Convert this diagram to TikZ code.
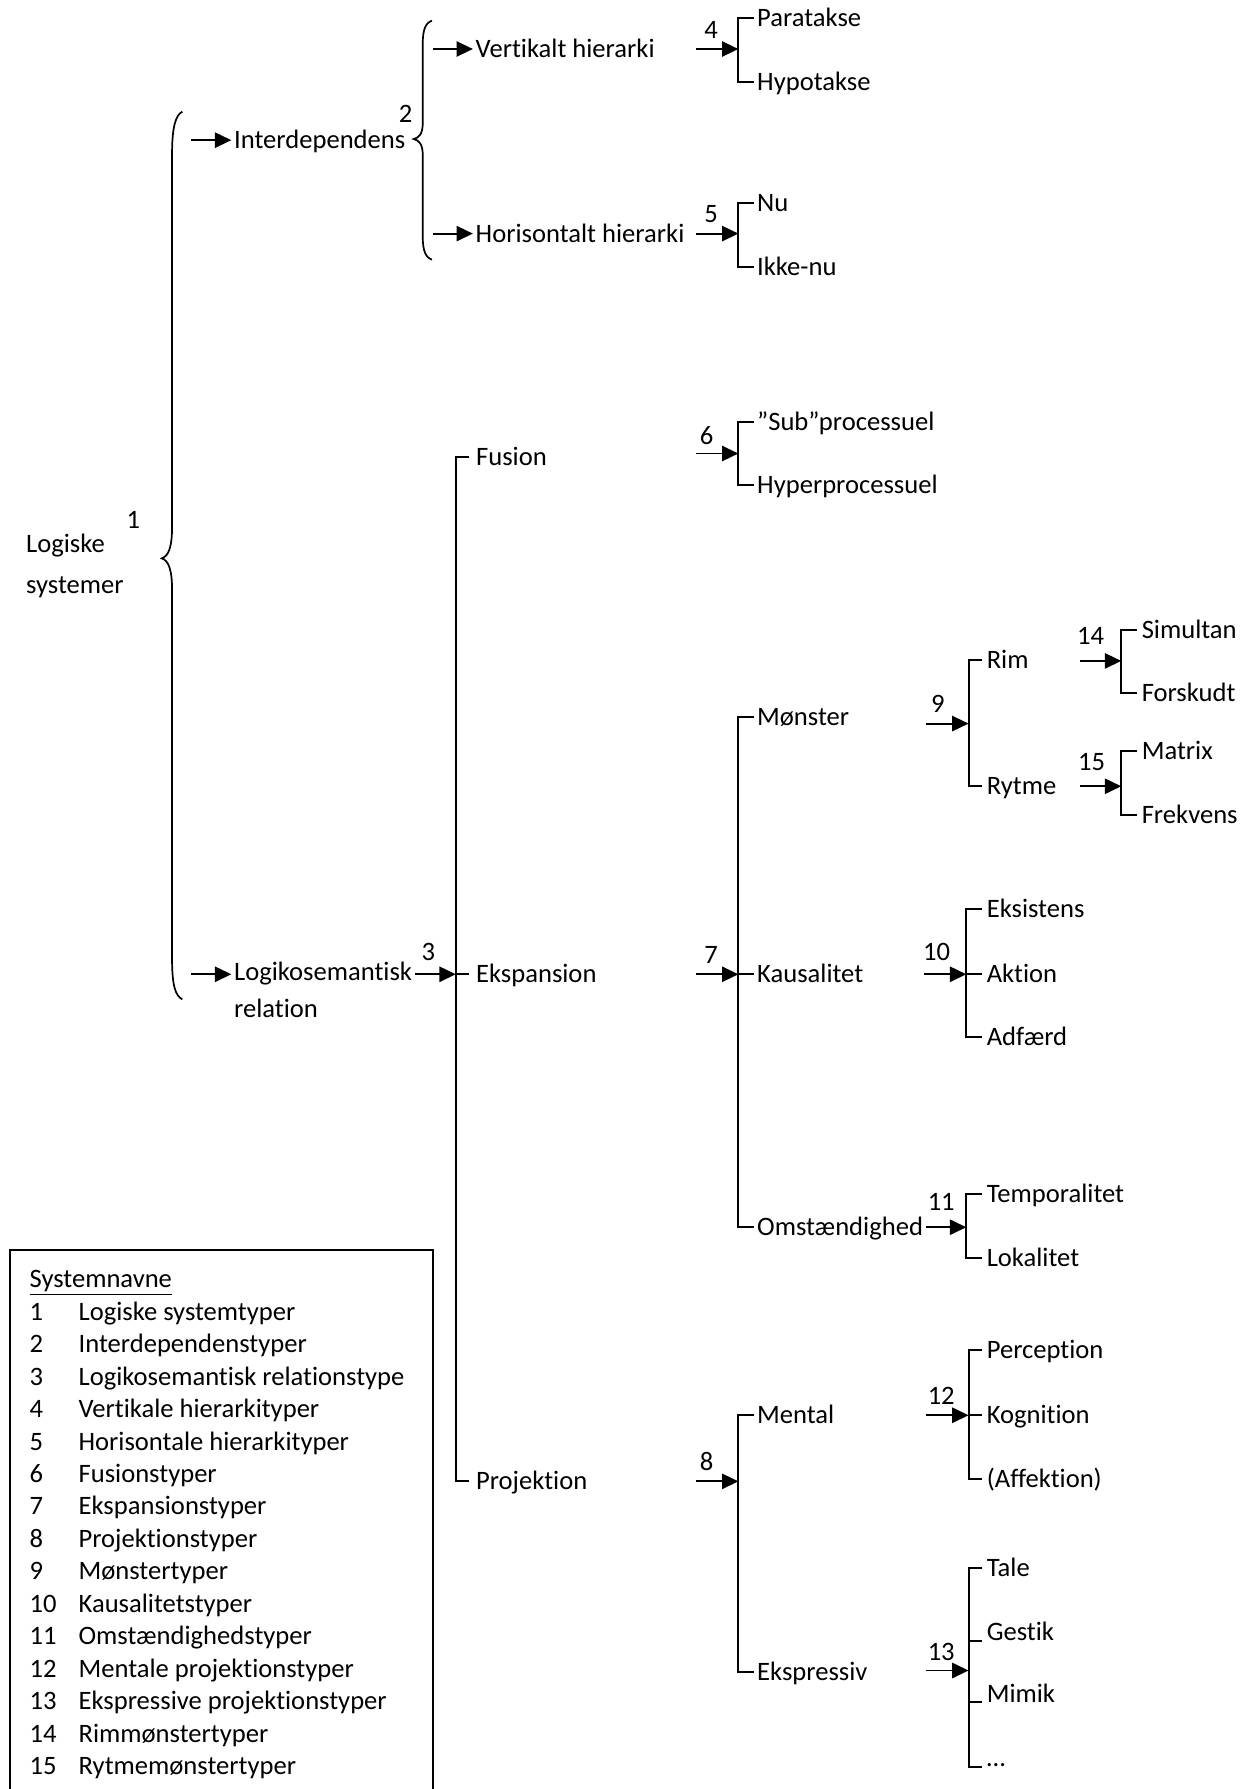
\documentclass[tikz,border=0pt]{standalone}
\usepackage{fontspec}
\setmainfont{Carlito}[Ligatures={NoCommon,NoContextual}]
\usetikzlibrary{arrows.meta}
\begin{document}
\begin{tikzpicture}[x=0.6pt,y=-0.6pt,
  every node/.style={font=\fontsize{14pt}{17pt}\selectfont, inner sep=0pt},
  lbl/.style={anchor=west, outer xsep=1.5pt, text height=9pt, text depth=0pt},
  blbl/.style={anchor=south west, outer xsep=1.5pt, text height=9pt, text depth=0pt},
  num/.style={anchor=center},
  ln/.style={line width=1pt},
  arr/.style={line width=1pt, -{Triangle[length=8.6pt,width=8pt]}},
  brace/.style={line width=0.9pt},
  legbox/.style={line width=0.8pt}]
\useasboundingbox (0,0) rectangle (1095,1570);

% ---------- root ----------
\node[lbl, outer xsep=0pt] (log1) at (23,477) {Logiske};
\node[lbl, outer xsep=0pt] (log2) at (23,513) {systemer};
\node[num] (n1) at (117,456) {1};
\draw[brace] (160,98) .. controls (154,101) and (151,112) .. (151,135) -- (151,462)
  .. controls (151,480) and (148,488) .. (142,490)
  .. controls (148,492) and (151,500) .. (151,518) -- (151,842)
  .. controls (151,865) and (154,874) .. (160,877);

% ---------- level 1 ----------
\coordinate (a1) at (168,123);
\node[lbl] (inter) at (203,123) {Interdependens};
\draw[arr] (a1) -- (inter.west);
\coordinate (a2) at (168,855);
\node[lbl] (logik) at (203,853) {Logikosemantisk};
\node[lbl] (logik2) at (203,885) {relation};
\draw[arr] (a2) -- (a2 -| logik.west);

% ---------- 2 ----------
\node[num] (n2) at (356,100) {2};
\draw[brace] (379,18) .. controls (374,20) and (371,25) .. (371,38) -- (371,108)
  .. controls (371,117) and (368,121) .. (363,122)
  .. controls (368,123) and (371,127) .. (371,136) -- (371,208)
  .. controls (371,221) and (374,226) .. (379,228);
\coordinate (a3) at (380,43);
\node[lbl] (vert) at (415,43) {Vertikalt hierarki};
\draw[arr] (a3) -- (vert.west);
\coordinate (a4) at (380,205);
\node[lbl] (hori) at (415,205) {Horisontalt hierarki};
\draw[arr] (a4) -- (hori.west);

% ---------- 4 ----------
\node[num] (n4) at (624,26) {4};
\coordinate (a5) at (611,43);
\coordinate (s4) at (648,43);
\draw[arr] (a5) -- (s4);
\node[lbl] (para) at (662,16) {Paratakse};
\node[lbl] (hypo) at (662,72) {Hypotakse};
\draw[ln] (para.west) -| (s4) |- (hypo.west);

% ---------- 5 ----------
\node[num] (n5) at (624,188) {5};
\coordinate (a6) at (611,205);
\coordinate (s5) at (648,205);
\draw[arr] (a6) -- (s5);
\node[lbl] (nu) at (662,178) {Nu};
\node[lbl] (ikke) at (662,234) {Ikke-nu};
\draw[ln] (nu.west) -| (s5) |- (ikke.west);

% ---------- 3 ----------
\node[num] (n3) at (376,835) {3};
\coordinate (s3) at (400,855);
\draw[arr] (logik.east |- s3) -- (s3);
\node[lbl, outer xsep=3.5pt] (fus) at (412,401) {Fusion};
\node[lbl, outer xsep=3.5pt] (eksp) at (412,855) {Ekspansion};
\node[lbl, outer xsep=3.5pt] (proj) at (412,1300) {Projektion};
\draw[ln] (fus.west) -| (s3) |- (proj.west);
\draw[ln] (s3) -- (eksp.west);

% ---------- 6 ----------
\node[num] (n6) at (620,382) {6};
\coordinate (a7) at (611,398);
\coordinate (s6) at (648,398);
\draw[arr] (a7) -- (s6);
\node[lbl] (sub) at (662,370) {”Sub”processuel};
\node[lbl] (hyper) at (662,426) {Hyperprocessuel};
\draw[ln] (sub.west) -| (s6) |- (hyper.west);

% ---------- 7 ----------
\node[num] (n7) at (624,838) {7};
\coordinate (a8) at (611,855);
\coordinate (s7) at (648,855);
\draw[arr] (a8) -- (s7);
\node[lbl] (mon) at (662,629) {Mønster};
\node[lbl] (kaus) at (662,855) {Kausalitet};
\node[lbl] (omst) at (662,1077) {Omstændighed};
\draw[ln] (mon.west) -| (s7) |- (omst.west);
\draw[ln] (s7) -- (kaus.west);

% ---------- 9 ----------
\node[num] (n9) at (823,618) {9};
\coordinate (a9) at (813,635);
\coordinate (s9) at (850,635);
\draw[arr] (a9) -- (s9);
\node[lbl, outer xsep=2.4pt] (rim) at (862,579) {Rim};
\node[lbl, outer xsep=2.4pt] (rytme) at (862,690) {Rytme};
\draw[ln] (rim.west) -| (s9) |- (rytme.west);

% ---------- 14 ----------
\node[num] (n14) at (957,558) {14};
\coordinate (a10) at (948,580);
\coordinate (s14) at (984,580);
\draw[arr] (a10) -- (s14);
\node[lbl, outer xsep=2.4pt] (sim) at (998,553) {Simultan};
\node[lbl, outer xsep=2.4pt] (fors) at (998,608) {Forskudt};
\draw[ln] (sim.west) -| (s14) |- (fors.west);

% ---------- 15 ----------
\node[num] (n15) at (958,669) {15};
\coordinate (a11) at (948,690);
\coordinate (s15) at (984,690);
\draw[arr] (a11) -- (s15);
\node[lbl, outer xsep=2.4pt] (mat) at (998,659) {Matrix};
\node[lbl, outer xsep=2.4pt] (frek) at (998,715) {Frekvens};
\draw[ln] (mat.west) -| (s15) |- (frek.west);

% ---------- 10 ----------
\node[num] (n10) at (822,835) {10};
\coordinate (a12) at (811,855);
\coordinate (s10) at (848,855);
\draw[arr] (a12) -- (s10);
\node[lbl, outer xsep=2.4pt] (eks) at (862,798) {Eksistens};
\node[lbl, outer xsep=2.4pt] (akt) at (862,855) {Aktion};
\node[lbl, outer xsep=2.4pt] (adf) at (862,910) {Adfærd};
\draw[ln] (eks.west) -| (s10) |- (adf.west);
\draw[ln] (s10) -- (akt.west);

% ---------- 11 ----------
\node[num] (n11) at (826,1055) {11};
\coordinate (s11) at (848,1077);
\draw[arr] (omst.east) -- (s11);
\node[lbl, outer xsep=2.4pt] (temp) at (862,1048) {Temporalitet};
\node[lbl, outer xsep=2.4pt] (lok) at (862,1104) {Lokalitet};
\draw[ln] (temp.west) -| (s11) |- (lok.west);

% ---------- 8 ----------
\node[num] (n8) at (620,1283) {8};
\coordinate (a13) at (611,1300);
\coordinate (s8) at (648,1300);
\draw[arr] (a13) -- (s8);
\node[lbl] (ment) at (662,1242) {Mental};
\node[lbl] (ekspr) at (662,1467) {Ekspressiv};
\draw[ln] (ment.west) -| (s8) |- (ekspr.west);

% ---------- 12 ----------
\node[num] (n12) at (826,1225) {12};
\coordinate (a14) at (813,1242);
\coordinate (s12) at (850,1242);
\draw[arr] (a14) -- (s12);
\node[lbl, outer xsep=2.4pt] (perc) at (862,1185) {Perception};
\node[lbl, outer xsep=2.4pt] (kogn) at (862,1242) {Kognition};
\node[lbl, outer xsep=2.4pt] (aff) at (862,1298) {(Affektion)};
\draw[ln] (perc.west) -| (s12) |- (aff.west);
\draw[ln] (s12) -- (kogn.west);

% ---------- 13 ----------
\node[num] (n13) at (826,1450) {13};
\coordinate (a15) at (813,1466);
\coordinate (s13) at (850,1466);
\draw[arr] (a15) -- (s13);
\node[lbl, outer xsep=2.4pt] (tale) at (862,1376) {Tale};
\node[blbl, outer xsep=2.4pt] (gest) at (862,1440) {Gestik};
\node[blbl, outer xsep=2.4pt] (mim) at (862,1494) {Mimik};
\node[blbl, outer xsep=2.4pt] (dots) at (862,1551) {…};
\draw[ln] (tale.west) -| (s13) |- (dots.south west);
\draw[ln] (s13 |- gest.south west) -- (gest.south west);
\draw[ln] (s13 |- mim.south west) -- (mim.south west);

% ---------- legend ----------
\draw[legbox] (9,1600) -- (9,1097) -- (380,1097) -- (380,1600);
\node[lbl, outer xsep=0pt] (lhead) at (26,1122) {\underline{Systemnavne}};
\foreach \i/\t in {1/Logiske systemtyper, 2/Interdependenstyper,
  3/Logikosemantisk relationstype, 4/Vertikale hierarkityper,
  5/Horisontale hierarkityper, 6/Fusionstyper, 7/Ekspansionstyper,
  8/Projektionstyper, 9/Mønstertyper, 10/Kausalitetstyper,
  11/Omstændighedstyper, 12/Mentale projektionstyper,
  13/Ekspressive projektionstyper, 14/Rimmønstertyper, 15/Rytmemønstertyper}{
  \node[lbl, outer xsep=0pt] (ln\i) at (26,{1151+28.5*(\i-1)}) {\i};
  \node[lbl, outer xsep=0pt] (lt\i) at (69,{1151+28.5*(\i-1)}) {\t};
}
\end{tikzpicture}
\end{document}
